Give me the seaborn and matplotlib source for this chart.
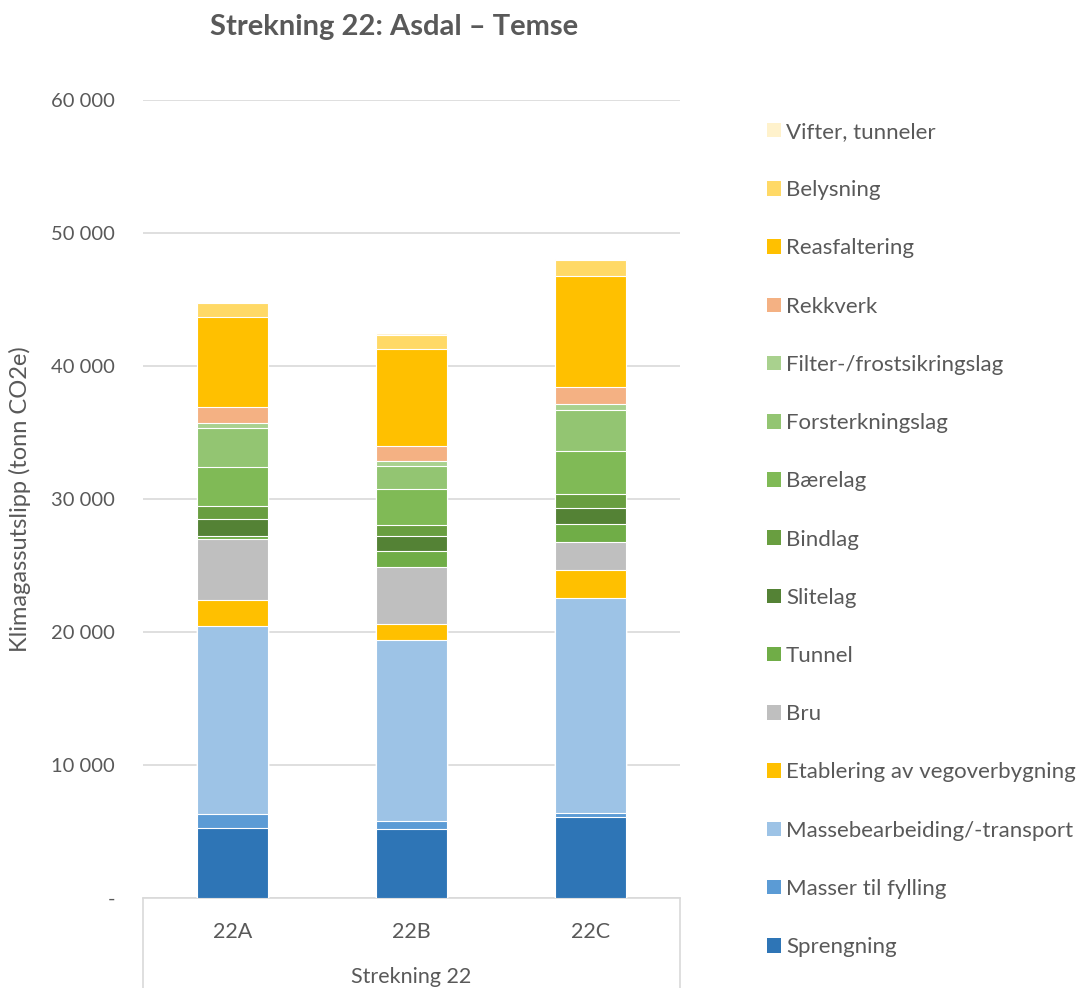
import numpy as np
import pandas as pd
import matplotlib
matplotlib.use("Agg")
import matplotlib.pyplot as plt
import seaborn as sns
from matplotlib.patches import Patch
from matplotlib.lines import Line2D
from matplotlib.ticker import FuncFormatter

# ── data (tonn CO2e), bottom → top ──
cats = ["22A", "22B", "22C"]
sprengning    = [5240, 5170, 6090]
masser        = [1075, 650, 320]
massebearb    = [14135, 13550, 16170]
etablering    = [1980, 1220, 2080]
bru           = [4560, 4310, 2100]
tunnel        = [250, 1200, 1350]
slitelag      = [1230, 1100, 1230]
bindlag       = [980, 870, 1050]
baerelag      = [2930, 2710, 3190]
forsterkning  = [2980, 1730, 3130]
filterlag     = [330, 330, 430]
rekkverk      = [1250, 1150, 1280]
reasfaltering = [6770, 7320, 8370]
belysning     = [1010, 1050, 1180]
vifter        = [50, 100, 50]

series = [
    ("Sprengning", sprengning, "#2E75B6"),
    ("Masser til fylling", masser, "#5B9BD5"),
    ("Massebearbeiding/-transport", massebearb, "#9DC3E6"),
    ("Etablering av vegoverbygning", etablering, "#FFC000"),
    ("Bru", bru, "#BFBFBF"),
    ("Tunnel", tunnel, "#70AD47"),
    ("Slitelag", slitelag, "#548235"),
    ("Bindlag", bindlag, "#699E40"),
    ("Bærelag", baerelag, "#80BA56"),
    ("Forsterkningslag", forsterkning, "#93C572"),
    ("Filter-/frostsikringslag", filterlag, "#A9D18E"),
    ("Rekkverk", rekkverk, "#F4B183"),
    ("Reasfaltering", reasfaltering, "#FFC000"),
    ("Belysning", belysning, "#FFD966"),
    ("Vifter, tunneler", vifter, "#FFF2CC"),
]

df = pd.DataFrame({name: vals for name, vals, _ in series}, index=cats)
cum = df.cumsum(axis=1)

TXT = "#595959"
GRID = "#D9D9D9"

sns.set_style("white")
plt.rcParams["font.family"] = ["Lato", "DejaVu Sans"]

fig = plt.figure(figsize=(10.79, 9.88), dpi=100)
ax = fig.add_axes([143/1079, 1-898/988, 537/1079, 798/988])

# draw cumulative totals from the top down so each layer sits on the previous one
for name, _, col in reversed(series):
    sns.barplot(x=cats, y=cum[name].values, color=col, saturation=1, width=0.4,
                edgecolor="white", linewidth=0.8, errorbar=None, ax=ax, zorder=3)

ax.set_ylim(0, 60000)
ax.set_xlim(-0.5, 2.5)
ax.set_yticks(np.arange(0, 60001, 10000))
ax.yaxis.set_major_formatter(FuncFormatter(lambda v, p: "-" if v == 0 else f"{int(v):,}".replace(",", " ")))
ax.grid(axis="y", color=GRID, lw=1.2, zorder=0)
ax.set_axisbelow(True)
for s in ["top", "right", "left"]:
    ax.spines[s].set_visible(False)
ax.spines["bottom"].set_color(GRID)
ax.spines["bottom"].set_linewidth(1.2)
ax.tick_params(axis="y", length=0, pad=20, labelsize=14.5, labelcolor=TXT)
ax.tick_params(axis="x", length=0, pad=17, labelsize=15.5, labelcolor=TXT)
ax.set_ylabel("Klimagassutslipp (tonn CO2e)", fontsize=17, color=TXT, labelpad=15)
ax.set_xlabel("Strekning 22", fontsize=15.5, color=TXT, labelpad=18)

# multi-level category box edges
for xx in (0, 1):
    ax.add_line(Line2D([xx, xx], [0, -0.2], transform=ax.transAxes, color=GRID,
                       lw=1.2, clip_on=False))

fig.text(394/1079, 1-27/988, "Strekning 22: Asdal – Temse", ha="center", va="center",
         fontsize=21, fontweight="bold", color=TXT)

handles = [Patch(facecolor=col, edgecolor="none", label=name) for name, _, col in reversed(series)]
fig.legend(handles=handles, loc="upper left", bbox_to_anchor=(767/1079, 1-122/988),
           frameon=False, fontsize=16, labelcolor=TXT, handlelength=0.63, handleheight=0.63,
           handletextpad=0.22, labelspacing=1.72, borderpad=0, borderaxespad=0)

plt.savefig("out.png", dpi=100)
plt.close()
